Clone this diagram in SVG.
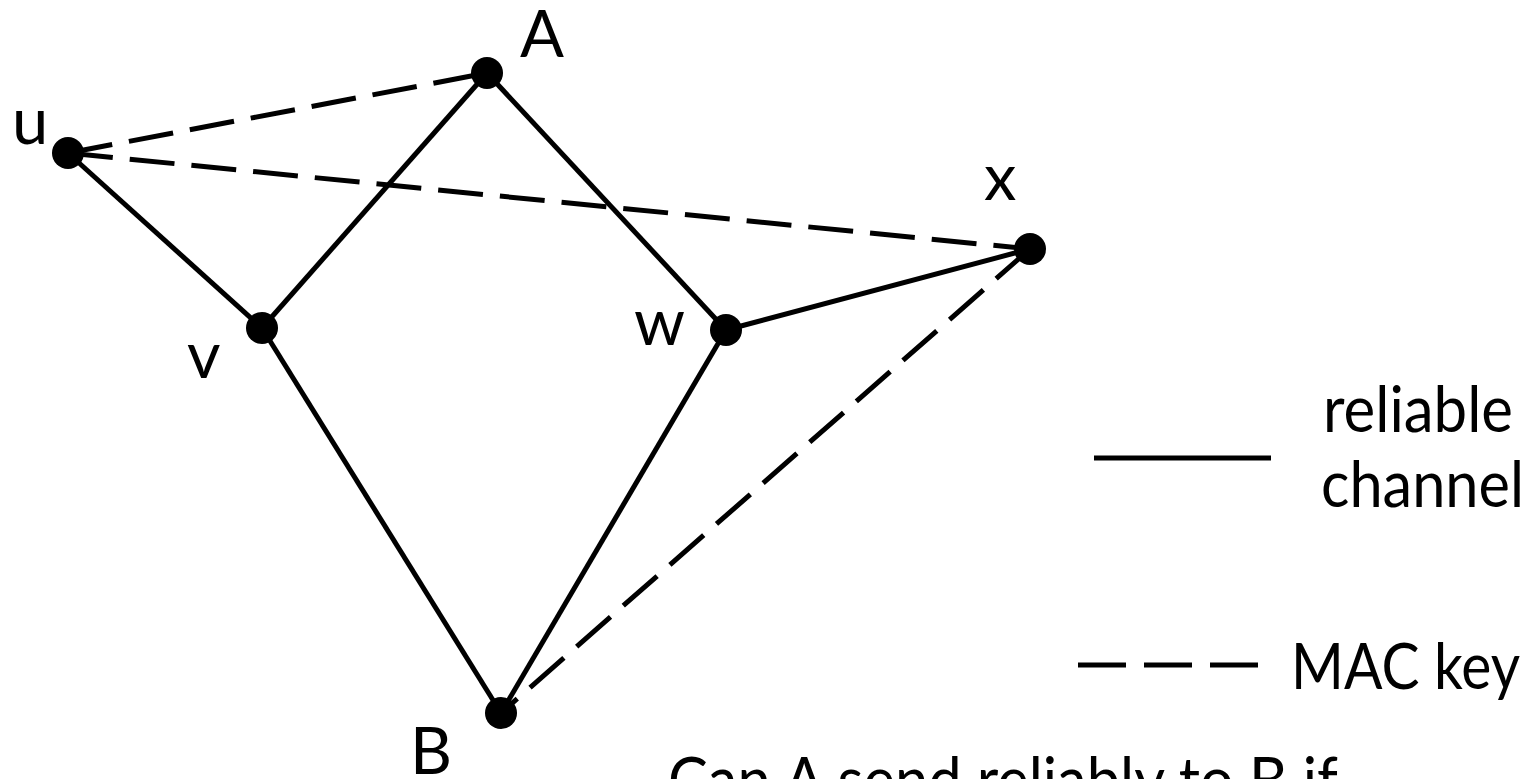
<svg xmlns="http://www.w3.org/2000/svg" width="1529" height="779" viewBox="0 0 1529 779">
<style>
.solid{stroke:#000;stroke-width:5;fill:none}
.dash{stroke:#000;stroke-width:5;fill:none;stroke-dasharray:45 17}
.node{fill:#000}
text{font-family:Lato,"Liberation Sans",sans-serif;font-size:64px;fill:#000}
.lbl{font-size:65px}
</style>
<rect width="1529" height="779" fill="#fff"/>
<g id="connectors">
<line class="solid" x1="68" y1="153" x2="262" y2="328"/>
<line class="solid" x1="487" y1="73" x2="262" y2="328"/>
<line class="solid" x1="487" y1="73" x2="726" y2="330"/>
<line class="solid" x1="262" y1="328" x2="501" y2="713"/>
<line class="solid" x1="726" y1="330" x2="501" y2="713"/>
<line class="solid" x1="726" y1="330" x2="1030" y2="249"/>
<line class="dash" x1="68" y1="153" x2="487" y2="73"/>
<line class="dash" x1="68" y1="153" x2="1030" y2="249"/>
<line class="dash" x1="1030" y1="249" x2="501" y2="713"/>
</g>
<g id="node-u"><circle class="node" cx="68" cy="153" r="16"/><text class="lbl" x="12" y="144">u</text></g>
<g id="node-A"><circle class="node" cx="487" cy="73" r="16"/><text class="lbl" x="520" y="57">A</text></g>
<g id="node-x"><circle class="node" cx="1030" cy="249" r="16"/><text class="lbl" x="984" y="200">x</text></g>
<g id="node-v"><circle class="node" cx="262" cy="328" r="16"/><text class="lbl" x="187" y="378">v</text></g>
<g id="node-w"><circle class="node" cx="726" cy="330" r="16"/><text class="lbl" x="634" y="345">w</text></g>
<g id="node-B"><circle class="node" cx="501" cy="713" r="16"/><text class="lbl" x="410" y="774">B</text></g>
<g id="legend">
<line class="solid" x1="1094" y1="458" x2="1271" y2="458"/>
<text x="1323" y="432" textLength="190" lengthAdjust="spacingAndGlyphs">reliable</text>
<text x="1321" y="507" textLength="203" lengthAdjust="spacingAndGlyphs">channel</text>
<line x1="1078" y1="665" x2="1258" y2="665" stroke="#000" stroke-width="5" stroke-dasharray="48 18"/>
<text x="1291" y="689" textLength="229" lengthAdjust="spacingAndGlyphs">MAC key</text>
</g>
<text id="question" x="668" y="803" textLength="670" lengthAdjust="spacingAndGlyphs">Can A send reliably to B if</text>
</svg>
